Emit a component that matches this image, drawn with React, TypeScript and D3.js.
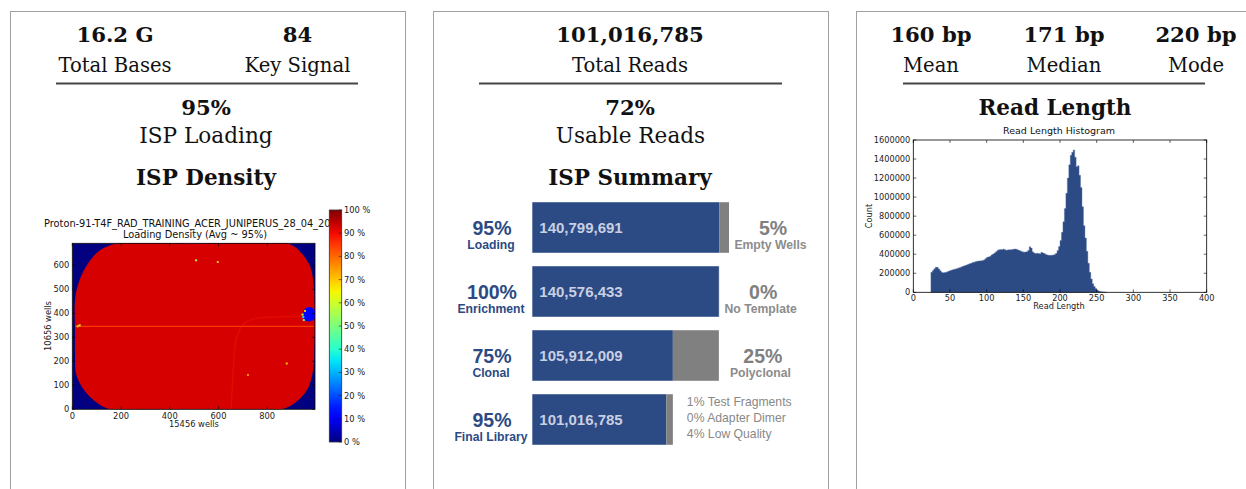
import React from "react";
import * as d3 from "d3";

const SERIF = "'DejaVu Serif', serif";
const MPL = "'DejaVu Sans', sans-serif";
const HTML = "'Liberation Sans', Arial, sans-serif";

// ---------- Panel 1: ISP density ----------
const basesStats = ["16.2 G", "84"];
const basesLabels = ["Total Bases", "Key Signal"];
const loadingValue = "95%";
const loadingLabel = "ISP Loading";
const densityTitle = "ISP Density";
const heatTitle1 = "Proton-91-T4F_RAD_TRAINING_ACER_JUNIPERUS_28_04_2015";
const heatTitle2 = "Loading Density (Avg ~ 95%)";
const heatXLabel = "15456 wells";
const heatYLabel = "10656 wells";
const heatXTicks = [0, 200, 400, 600, 800];
const heatYTicks = [0, 100, 200, 300, 400, 500, 600];
const colorbarTicks = [0, 10, 20, 30, 40, 50, 60, 70, 80, 90, 100];
// chip outline (wells/15.4 units), loading value inside
const chipOutline: [number, number][] = [
  [190, 692], [500, 692], [887, 690], [942, 649], [977, 593], [990, 524],
  [994, 450], [995, 330], [993, 240], [990, 177], [970, 94], [928, 39],
  [859, 0], [500, 0], [156, 0], [87, 39], [39, 94], [15, 150], [11, 240],
  [11, 330], [11, 455], [25, 524], [55, 593], [110, 660],
];
const chipLoading = 0.925;
const streakY = 346;
const streakX = [12, 993];
const streakLoading = 0.84;
const arcPoints: [number, number][] = [[652, 0], [660, 150], [672, 289], [700, 352], [740, 376], [830, 385], [960, 388]];
const arcLoading = 0.88;
const voidCenter: [number, number] = [972, 396];
const voidRadius: [number, number] = [27, 30];
const voidLoading = 0.12;
const specks: [number, number, number][] = [
  [22, 346, 0.68], [30, 350, 0.62], [945, 395, 0.6], [950, 372, 0.45], [955, 410, 0.7],
  [948, 385, 0.35], [508, 621, 0.55], [597, 614, 0.7], [880, 191, 0.7], [721, 143, 0.75],
];

// ---------- Panel 2: ISP summary ----------
const readsValue = "101,016,785";
const readsLabel = "Total Reads";
const usableValue = "72%";
const usableLabel = "Usable Reads";
const summaryTitle = "ISP Summary";
const ispCategories = ["Loading", "Enrichment", "Clonal", "Final Library"];
const ispPercents = ["95%", "100%", "75%", "95%"];
const ispCounts = [140799691, 140576433, 105912009, 101016785];
const ispRemainders = [7410510, 223258, 34664424, 4895224];
const ispRightPercents = ["5%", "0%", "25%"];
const ispRightLabels = ["Empty Wells", "No Template", "Polyclonal"];
const finalFilters = ["1% Test Fragments", "0% Adapter Dimer", "4% Low Quality"];

// ---------- Panel 3: read length ----------
const lengthStats = ["160 bp", "171 bp", "220 bp"];
const lengthLabels = ["Mean", "Median", "Mode"];
const lengthTitle = "Read Length";
const histTitle = "Read Length Histogram";
const histXLabel = "Read Length";
const histYLabel = "Count";
const histXTicks = [0, 50, 100, 150, 200, 250, 300, 350, 400];
const histYTicks = [0, 200000, 400000, 600000, 800000, 1000000, 1200000, 1400000, 1600000];
const histStart = 24;
const histBinWidth = 2;
// counts per 2-bp bin, in thousands
const histCountsK = [
  210, 228, 248, 263, 262, 246, 226, 210, 205, 207, 211, 217, 224, 230, 235, 239, 243, 248,
  253, 258, 264, 270, 276, 282, 288, 295, 300, 306, 312, 317, 322, 326, 328, 330, 332, 335,
  342, 356, 368, 372, 378, 392, 402, 412, 425, 440, 448, 450, 448, 455, 448, 443, 445, 448,
  446, 450, 452, 455, 452, 445, 440, 432, 425, 422, 424, 426, 440, 478, 465, 425, 412, 408,
  410, 408, 405, 420, 412, 408, 398, 392, 388, 388, 390, 392, 396, 410, 440, 480, 545, 630,
  740, 880, 1040, 1200, 1340, 1440, 1470, 1495, 1420, 1320, 1330, 1230, 1100, 900, 700, 570,
  430, 305, 210, 140, 90, 60, 40, 25, 14, 9, 5, 3, 2, 1,
];

// ---------- helpers ----------
const jetR = d3.scaleLinear([0, 0.35, 0.66, 0.89, 1], [0, 0, 1, 1, 0.5]).clamp(true);
const jetG = d3.scaleLinear([0, 0.125, 0.375, 0.64, 0.91, 1], [0, 0, 1, 1, 0, 0]).clamp(true);
const jetB = d3.scaleLinear([0, 0.11, 0.34, 0.65, 1], [0.5, 1, 1, 0, 0]).clamp(true);
const jet = (v: number) => d3.rgb(jetR(v) * 255, jetG(v) * 255, jetB(v) * 255).formatHex();

const panelLefts = [10, 433, 856];
const PANEL_W = 395;
const BLUE = "#2c4a84";

function Panels() {
  return (
    <g>
      {panelLefts.map((x) => (
        <rect key={x} x={x + 0.5} y={11.5} width={PANEL_W} height={500} fill="none" stroke="#a0a0a0" strokeWidth={1} />
      ))}
    </g>
  );
}

function Headers() {
  const bold = { fontFamily: SERIF, fontWeight: 700, fontSize: 21.2, fill: "#111", textAnchor: "middle" as const };
  const reg = { fontFamily: SERIF, fontSize: 19.6, fill: "#111", textAnchor: "middle" as const };
  const big = { fontFamily: SERIF, fontSize: 21.6, fill: "#111", textAnchor: "middle" as const };
  const sec = { fontFamily: SERIF, fontWeight: 700, fontSize: 21.5, fill: "#111", textAnchor: "middle" as const };
  const c1 = [115, 297.5];
  const c3 = [931, 1064, 1196];
  return (
    <g>
      {basesStats.map((s, i) => (
        <text key={s} x={c1[i]} y={42} {...bold}>{s}</text>
      ))}
      {basesLabels.map((s, i) => (
        <text key={s} x={c1[i]} y={71.5} {...reg}>{s}</text>
      ))}
      <line x1={56} x2={358} y1={83.5} y2={83.5} stroke="#444" strokeWidth={2} />
      <text x={206} y={115} {...bold}>{loadingValue}</text>
      <text x={206} y={143} {...big}>{loadingLabel}</text>
      <text x={206} y={184.5} {...sec}>{densityTitle}</text>

      <text x={630} y={42} {...bold}>{readsValue}</text>
      <text x={630} y={71.5} {...reg}>{readsLabel}</text>
      <line x1={479} x2={782} y1={83.5} y2={83.5} stroke="#444" strokeWidth={2} />
      <text x={630} y={115} {...bold}>{usableValue}</text>
      <text x={630.5} y={143} {...big}>{usableLabel}</text>
      <text x={630} y={184.5} {...sec}>{summaryTitle}</text>

      {lengthStats.map((s, i) => (
        <text key={s} x={c3[i]} y={42} {...bold}>{s}</text>
      ))}
      {lengthLabels.map((s, i) => (
        <text key={s} x={c3[i]} y={71.5} {...reg}>{s}</text>
      ))}
      <line x1={903} x2={1205} y1={83.5} y2={83.5} stroke="#444" strokeWidth={2} />
      <text x={1055} y={114.5} {...sec}>{lengthTitle}</text>
    </g>
  );
}

function Heatmap() {
  const x = d3.scaleLinear([0, 996], [72.3, 315]);
  const y = d3.scaleLinear([0, 692], [409.3, 243.3]);
  const chipPath = d3
    .line<[number, number]>()
    .x((d) => x(d[0]))
    .y((d) => y(d[1]))
    .curve(d3.curveCatmullRomClosed.alpha(0.5))(chipOutline) as string;
  const arcPath = d3
    .line<[number, number]>()
    .x((d) => x(d[0]))
    .y((d) => y(d[1]))
    .curve(d3.curveCatmullRom.alpha(0.5))(arcPoints) as string;
  const [x0, x1] = x.range();
  const [y0, y1] = y.range();
  const cb = d3.scaleLinear([0, 100], [442, 210]);
  const stops = d3.range(0, 1.0001, 0.05);
  const tf = { fontFamily: MPL, fontSize: 8.3, fill: "#222" };
  return (
    <g>
      <defs>
        <clipPath id="heatClip">
          <rect x={x0} y={y1} width={x1 - x0} height={y0 - y1} />
        </clipPath>
        <clipPath id="titleClip">
          <rect x={0} y={200} width={341} height={60} />
        </clipPath>
        <linearGradient id="jetGrad" x1="0" y1="1" x2="0" y2="0">
          {stops.map((s) => (
            <stop key={s} offset={s} stopColor={jet(s)} />
          ))}
        </linearGradient>
      </defs>
      <g clipPath="url(#titleClip)">
        <text x={44} y={226.5} fontFamily={MPL} fontSize={9.8} fill="#111">{heatTitle1}</text>
      </g>
      <text x={195} y={237.5} fontFamily={MPL} fontSize={9.8} fill="#111" textAnchor="middle">{heatTitle2}</text>
      <g clipPath="url(#heatClip)">
        <rect x={x0} y={y1} width={x1 - x0} height={y0 - y1} fill={jet(0)} />
        <path d={chipPath} fill={jet(chipLoading)} />
        <line x1={x(streakX[0])} x2={x(streakX[1])} y1={y(streakY)} y2={y(streakY)} stroke={jet(streakLoading)} strokeWidth={1.2} opacity={0.85} />
        <path d={arcPath} fill="none" stroke={jet(arcLoading)} strokeWidth={1.5} opacity={0.35} />
        <ellipse cx={x(voidCenter[0])} cy={y(voidCenter[1])} rx={x(voidRadius[0]) - x(0)} ry={y(0) - y(voidRadius[1])} fill={jet(voidLoading)} />
        {specks.map((s, i) => (
          <rect key={i} x={x(s[0]) - 1} y={y(s[1]) - 1} width={2} height={2} fill={jet(s[2])} />
        ))}
      </g>
      <rect x={x0} y={y1} width={x1 - x0} height={y0 - y1} fill="none" stroke="#000" strokeWidth={0.8} />
      {heatXTicks.map((t) => (
        <g key={t}>
          <line x1={x(t)} x2={x(t)} y1={y0} y2={y0 - 3} stroke="#000" strokeWidth={0.6} />
          <line x1={x(t)} x2={x(t)} y1={y1} y2={y1 + 3} stroke="#000" strokeWidth={0.6} />
          <text x={x(t)} y={y0 + 10} textAnchor="middle" {...tf}>{t}</text>
        </g>
      ))}
      {heatYTicks.map((t) => (
        <g key={t}>
          <line x1={x0} x2={x0 + 3} y1={y(t)} y2={y(t)} stroke="#000" strokeWidth={0.6} />
          <line x1={x1} x2={x1 - 3} y1={y(t)} y2={y(t)} stroke="#000" strokeWidth={0.6} />
          <text x={x0 - 3} y={y(t) + 3} textAnchor="end" {...tf}>{t}</text>
        </g>
      ))}
      <text x={194} y={427} textAnchor="middle" {...tf}>{heatXLabel}</text>
      <text transform={`translate(51,326) rotate(-90)`} textAnchor="middle" {...tf}>{heatYLabel}</text>

      <rect x={329.3} y={cb(100)} width={12.4} height={cb(0) - cb(100)} fill="url(#jetGrad)" stroke="#333" strokeWidth={0.8} />
      {colorbarTicks.map((t) => (
        <g key={t}>
          <line x1={341.7} x2={338.7} y1={cb(t)} y2={cb(t)} stroke="#222" strokeWidth={0.6} />
          <text x={344} y={cb(t) + 3} {...tf}>{`${t} %`}</text>
        </g>
      ))}
    </g>
  );
}

function IspSummary() {
  const totals = ispCounts.map((c, i) => c + ispRemainders[i]);
  const xs = d3.scaleLinear([0, d3.max(totals) as number], [532.3, 729]);
  const ys = d3.scaleBand<string>().domain(ispCategories).range([195.5, 451.5]).paddingInner(0.21).paddingOuter(0.105);
  return (
    <g>
      {ispCategories.map((cat, i) => {
        const top = ys(cat) as number;
        const h = ys.bandwidth();
        const cy = top + h / 2;
        const blueEnd = xs(ispCounts[i]);
        const grayEnd = xs(totals[i]);
        return (
          <g key={cat}>
            <rect x={xs(0)} y={top} width={blueEnd - xs(0)} height={h} fill={BLUE} />
            <rect x={blueEnd} y={top} width={grayEnd - blueEnd} height={h} fill="#808080" />
            <text x={xs(0) + 7} y={cy + 5.5} fontFamily={HTML} fontWeight={700} fontSize={15} fill="#c9cfe2">
              {d3.format(",")(ispCounts[i])}
            </text>
            <text x={492} y={cy + 7.5} textAnchor="middle" fontFamily={HTML} fontWeight={700} fontSize={19.5} fill={BLUE}>
              {ispPercents[i]}
            </text>
            <text x={491} y={cy + 21.5} textAnchor="middle" fontFamily={HTML} fontWeight={700} fontSize={12.2} fill={BLUE}>
              {cat}
            </text>
            {i < ispRightPercents.length ? (
              <g>
                <text x={grayEnd + 44} y={cy + 7} textAnchor="middle" fontFamily={HTML} fontWeight={700} fontSize={19.5} fill="#808080">
                  {ispRightPercents[i]}
                </text>
                <text x={grayEnd + 41.5} y={cy + 21.5} textAnchor="middle" fontFamily={HTML} fontWeight={700} fontSize={12.2} fill="#8c8c8c">
                  {ispRightLabels[i]}
                </text>
              </g>
            ) : (
              <g>
                {finalFilters.map((f, j) => (
                  <text key={f} x={grayEnd + 14} y={cy - 13.5 + j * 16} fontFamily={HTML} fontSize={12.2} fill="#888">
                    {f}
                  </text>
                ))}
              </g>
            )}
          </g>
        );
      })}
    </g>
  );
}

function Histogram() {
  const x = d3.scaleLinear([0, 400], [913.3, 1206.7]);
  const y = d3.scaleLinear([0, 1600000], [292.3, 140]);
  const pts = histCountsK.map((c, i) => ({ bp: histStart + i * histBinWidth, n: c * 1000 }));
  pts.push({ bp: histStart + histCountsK.length * histBinWidth, n: pts[pts.length - 1].n });
  const area = d3
    .area<{ bp: number; n: number }>()
    .x((d) => x(d.bp))
    .y0(y(0))
    .y1((d) => y(d.n))
    .curve(d3.curveStepAfter)(pts) as string;
  const [x0, x1] = x.range();
  const [y0, y1] = y.range();
  const tf = { fontFamily: MPL, fontSize: 8.2, fill: "#222" };
  return (
    <g>
      <text x={1059} y={134} textAnchor="middle" fontFamily={MPL} fontSize={9.5} fill="#111">{histTitle}</text>
      <path d={area} fill={BLUE} stroke="#5a73a3" strokeWidth={0.4} />
      <rect x={x0} y={y1} width={x1 - x0} height={y0 - y1} fill="none" stroke="#000" strokeWidth={0.8} />
      {histXTicks.map((t) => (
        <g key={t}>
          <line x1={x(t)} x2={x(t)} y1={y0} y2={y0 - 3} stroke="#000" strokeWidth={0.6} />
          <line x1={x(t)} x2={x(t)} y1={y1} y2={y1 + 3} stroke="#000" strokeWidth={0.6} />
          <text x={x(t)} y={y0 + 9} textAnchor="middle" {...tf}>{t}</text>
        </g>
      ))}
      {histYTicks.map((t) => (
        <g key={t}>
          <line x1={x0} x2={x0 + 3} y1={y(t)} y2={y(t)} stroke="#000" strokeWidth={0.6} />
          <line x1={x1} x2={x1 - 3} y1={y(t)} y2={y(t)} stroke="#000" strokeWidth={0.6} />
          <text x={x0 - 3} y={y(t) + 3} textAnchor="end" {...tf}>{t}</text>
        </g>
      ))}
      <text x={1059} y={309} textAnchor="middle" {...tf}>{histXLabel}</text>
      <text transform={`translate(872,216) rotate(-90)`} textAnchor="middle" {...tf}>{histYLabel}</text>
    </g>
  );
}

export default function App() {
  return (
    <svg
      width={1246}
      height={489}
      viewBox="0 0 1246 489"
      style={{ position: "absolute", left: 0, top: 0, background: "#fff" }}
    >
      <rect x={0} y={0} width={1246} height={489} fill="#fff" />
      <Panels />
      <Headers />
      <Heatmap />
      <IspSummary />
      <Histogram />
    </svg>
  );
}
